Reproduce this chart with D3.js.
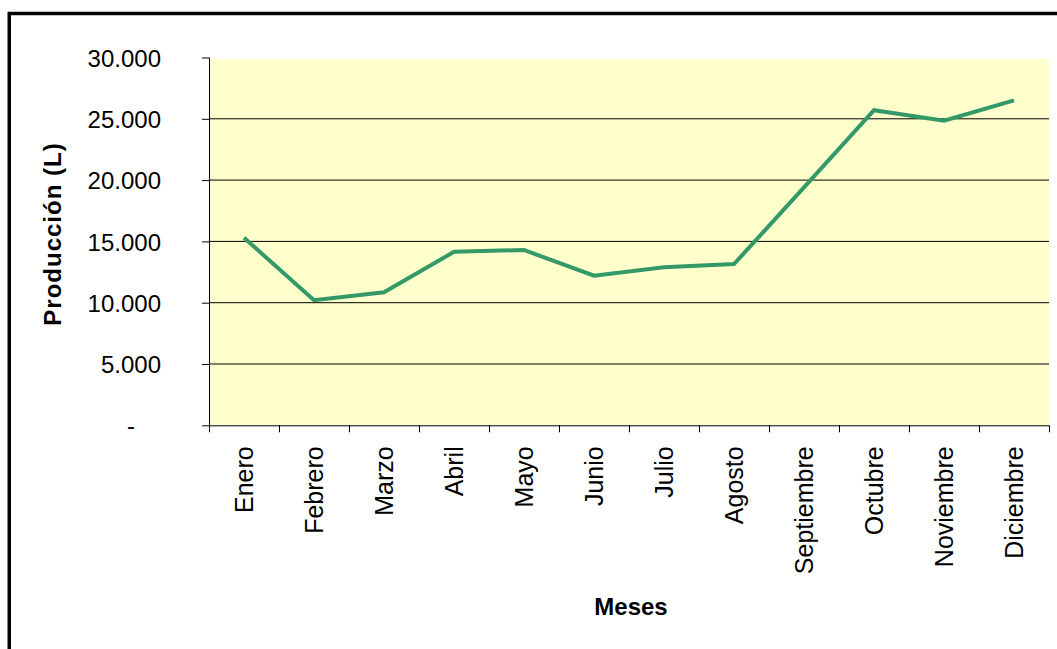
<!DOCTYPE html>
<html>
<head>
<meta charset="utf-8">
<script src="https://cdn.jsdelivr.net/npm/d3@7"></script>
<style>
body { margin: 0; background: #fff; }
text { font-family: "Liberation Sans", Arial, sans-serif; fill: #000; }
</style>
</head>
<body>
<div id="chart"></div>
<script>
// data
var meses = ["Enero", "Febrero", "Marzo", "Abril", "Mayo", "Junio", "Julio",
  "Agosto", "Septiembre", "Octubre", "Noviembre", "Diciembre"]
var produccion = [15300, 10200, 10850, 14150, 14300, 12200, 12900,
  13150, 19400, 25700, 24850, 26500]
var yTicks = [0, 5000, 10000, 15000, 20000, 25000, 30000]

var W = 1057, H = 649
var margin = {top: 57.5, right: 8, bottom: 223.7, left: 209}
var width = W - margin.left - margin.right
var height = H - margin.top - margin.bottom

var svg = d3.select("#chart").append("svg")
    .attr("width", W).attr("height", H)

// outer frame (runs off the right and bottom edges)
svg.append("rect")
    .attr("x", 9.25).attr("y", 13.5)
    .attr("width", 1200).attr("height", 800)
    .style("fill", "none").style("stroke", "#000").style("stroke-width", 3.5)

var g = svg.append("g").attr("transform", "translate(" + margin.left + "," + margin.top + ")")

var x = d3.scaleBand().domain(meses).range([0, width])
var y = d3.scaleLinear().domain([0, 30000]).range([height, 0])

g.append("rect")
    .attr("x", 0).attr("y", 1.5)
    .attr("width", width).attr("height", height - 1.5)
    .style("fill", "#FFFFCC")

// gridlines
g.selectAll(".grid").data(yTicks.filter(function(d){ return d > 0 && d < 30000 }))
  .enter().append("line")
    .attr("x1", 0).attr("x2", width)
    .attr("y1", function(d){ return y(d) })
    .attr("y2", function(d){ return y(d) })
    .style("stroke", "#000").style("stroke-width", 1)

var fmt = function(d){ return d === 0 ? "-" : d3.format(",")(d).replace(/,/g, ".") }

var yAxis = g.append("g")
    .call(d3.axisLeft(y).tickValues(yTicks).tickFormat(fmt).tickSize(7).tickPadding(41))
yAxis.select(".domain").remove()
yAxis.append("line").attr("x1", 0.5).attr("x2", 0.5).attr("y1", 0).attr("y2", height)
    .style("stroke", "#000")
yAxis.selectAll("text")
    .style("font-size", "24px")
    .attr("dx", function(d){ return d === 0 ? -26 : 0 })
    .attr("dy", "0.36em")

var xAxis = g.append("g").attr("transform", "translate(0," + height + ")")
    .call(d3.axisBottom(d3.scaleLinear().domain([0, meses.length]).range([0, width]))
      .tickValues(d3.range(meses.length + 1)).tickFormat("").tickSize(7))
xAxis.select(".domain").attr("d", "M0,0.5H" + width)

g.append("g").selectAll(".mes").data(meses).enter().append("text")
    .attr("transform", function(d){
      return "translate(" + (x(d) + x.bandwidth() / 2) + "," + (height + 21) + ") rotate(-90)"
    })
    .attr("text-anchor", "end")
    .attr("dy", "0.36em")
    .style("font-size", "25px")
    .text(function(d){ return d })

// line
var line = d3.line()
    .x(function(d, i){ return x(meses[i]) + x.bandwidth() / 2 })
    .y(function(d){ return y(d) })
g.append("path")
    .datum(produccion)
    .attr("d", line)
    .style("fill", "none")
    .style("stroke", "#339966")
    .style("stroke-width", 4)

// axis titles
svg.append("text")
    .attr("transform", "translate(61,234) rotate(-90)")
    .attr("text-anchor", "middle")
    .style("font-size", "24px").style("font-weight", "bold")
    .style("letter-spacing", "1px")
    .text("Producción (L)")

svg.append("text")
    .attr("x", 631).attr("y", 615)
    .attr("text-anchor", "middle")
    .style("font-size", "24px").style("font-weight", "bold")
    .text("Meses")
</script>
</body>
</html>
